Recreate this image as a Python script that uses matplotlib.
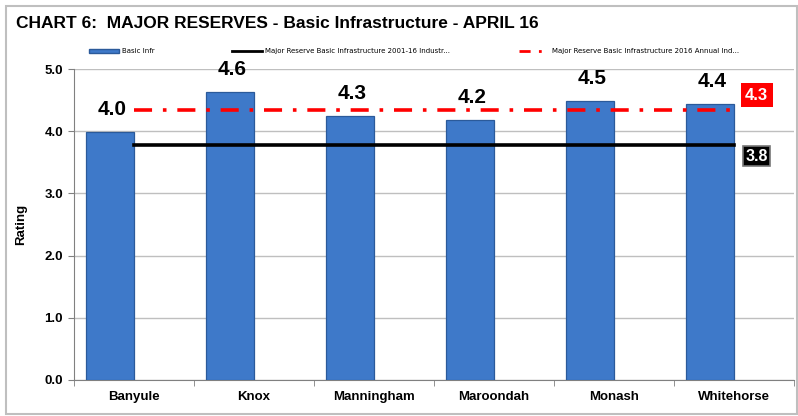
import matplotlib
matplotlib.use("Agg")
import matplotlib.pyplot as plt
from matplotlib.patches import Rectangle
from matplotlib.lines import Line2D

categories = ["Banyule", "Knox", "Manningham", "Maroondah", "Monash", "Whitehorse"]
basic_infr = [3.99, 4.63, 4.24, 4.18, 4.49, 4.44]
bar_labels = ["4.0", "4.6", "4.3", "4.2", "4.5", "4.4"]
industry_avg = 3.78
annual_avg = 4.34
industry_label = "3.8"
annual_label = "4.3"
yticks = [0.0, 1.0, 2.0, 3.0, 4.0, 5.0]
title = "CHART 6:  MAJOR RESERVES - Basic Infrastructure - APRIL 16"
legend_names = ["Basic Infr",
                "Major Reserve Basic Infrastructure 2001-16 Industr...",
                "Major Reserve Basic Infrastructure 2016 Annual Ind..."]

W, H = 798, 416
fig = plt.figure(figsize=(W / 100, H / 100), dpi=100)
fig.patch.set_facecolor("white")
FONT = "Liberation Sans"

# outer frame
fig.add_artist(Rectangle((5.5 / W, 2.5 / H), (W - 7) / W, (H - 8) / H, transform=fig.transFigure,
                         fill=False, edgecolor="#BFBFBF", linewidth=1.5))

ax = fig.add_axes([74 / W, 1 - 380 / H, 720 / W, 311 / H])
n = len(categories)
xs = list(range(n))
bx = [x - 0.2 for x in xs]
ax.bar(bx, basic_infr, width=0.4, color="#3E79C9", edgecolor="#2B5A9A", linewidth=0.9, zorder=3)

for x, v, lab in zip(bx, basic_infr, bar_labels):
    ax.text(x + 0.02, v + 0.27, lab, ha="center", va="baseline", fontsize=15, fontweight="bold",
            family=FONT, color="black", zorder=5)

ax.plot([0, n - 1], [industry_avg, industry_avg], color="black", linewidth=2.6, zorder=4)
ax.plot([0, n - 1], [annual_avg, annual_avg], color="#FF0000", linewidth=2.6,
        dashes=[5, 3, 1, 3], zorder=4)

ax.text(n - 1 + 0.19, annual_avg + 0.24, annual_label, ha="center", va="center", fontsize=12,
        fontweight="bold", color="white", family=FONT,
        bbox=dict(boxstyle="square,pad=0.25", facecolor="#FF0000", edgecolor="none"), zorder=6)
ax.text(n - 1 + 0.19, industry_avg - 0.18, industry_label, ha="center", va="center", fontsize=11.5,
        fontweight="bold", color="white", family=FONT,
        bbox=dict(boxstyle="square,pad=0.15", facecolor="black", edgecolor="#777777", linewidth=1.2),
        zorder=6)

ax.set_xlim(-0.5, n - 0.5)
ax.set_ylim(0, 5)
ax.set_yticks(yticks)
ax.set_yticklabels([f"{t:.1f}" for t in yticks], fontsize=9.5, fontweight="bold", family=FONT)
ax.set_xticks(xs)
ax.set_xticklabels(categories, fontsize=9.5, fontweight="bold", family=FONT)
ax.set_xticks([x + 0.5 for x in range(-1, n)], minor=True)
ax.tick_params(axis="x", which="major", length=0, pad=8)
ax.tick_params(axis="x", which="minor", length=4, color="#808080")
ax.tick_params(axis="y", length=4, color="#808080", pad=4)
ax.grid(axis="y", color="#BFBFBF", linewidth=1, zorder=0)
for s in ["top", "right"]:
    ax.spines[s].set_visible(False)
for s in ["left", "bottom"]:
    ax.spines[s].set_color("#808080")
ax.set_ylabel("Rating", fontsize=9.5, fontweight="bold", family=FONT, labelpad=12)

fig.text(16 / W, 1 - 23 / H, title, fontsize=12.5, fontweight="bold",
         family=FONT, va="center", ha="left")

# legend: three entries placed like the reference
handles = [Rectangle((0, 0), 1, 1, facecolor="#3E79C9", edgecolor="#2B5A9A"),
           Line2D([], [], color="black", linewidth=2),
           Line2D([], [], color="#FF0000", linewidth=2, dashes=[4, 3, 1, 3])]
leg_x = [89, 232, 519]
for h, name, lx in zip(handles, legend_names, leg_x):
    lg = fig.legend([h], [name], loc="center left", bbox_to_anchor=(lx / W, 1 - 51 / H),
                    frameon=False, fontsize=5, handlelength=4.3, handleheight=0.5,
                    borderpad=0, borderaxespad=0, handletextpad=0.4)

fig.savefig("out.png", dpi=100)
